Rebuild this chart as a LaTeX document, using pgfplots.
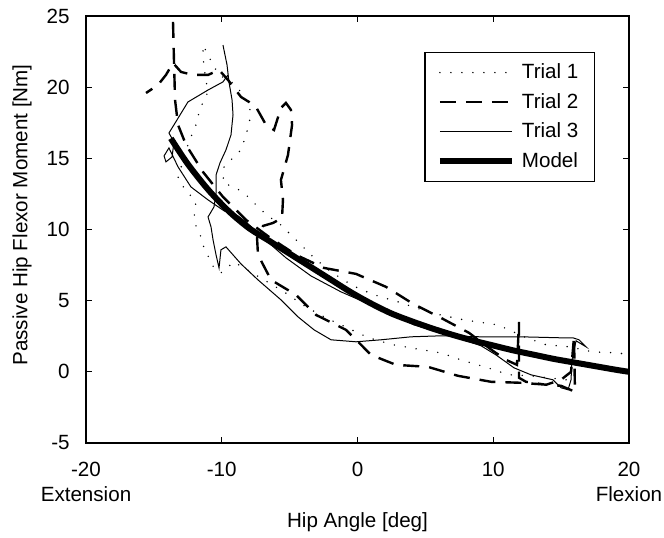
\documentclass[border=0pt]{standalone}
\usepackage{fontspec}
\setmainfont{Liberation Sans}
\usepackage{pgfplots}
\pgfplotsset{compat=1.18}
\begin{document}
\begin{tikzpicture}[font=\fontsize{10.3}{12.5}\selectfont]
\begin{axis}[
  name=ax,
  width=271.5pt, height=213.5pt, scale only axis,
  xmin=-20, xmax=20, ymin=-5, ymax=25,
  xtick={-20,-10,0,10,20},
  xticklabels={{-20\\Extension},{-10},{0},{10},{20\\Flexion}},
  xticklabel style={align=center, inner sep=0pt, yshift=-9.5pt},
  ytick={-5,0,5,10,15,20,25},
  yticklabels={{-5},{0},{5},{10},{15},{20},{25}},
  yticklabel style={inner sep=0pt, xshift=-8pt},
  xlabel={Hip Angle [deg]},
  ylabel={Passive Hip Flexor Moment [Nm]},
  xlabel style={at={(axis description cs:0.5,-0.185)}, anchor=center, inner sep=0pt},
  ylabel style={at={(axis description cs:-0.1363,0.534)}, anchor=north, inner sep=0pt},
  axis line style={line width=0.7pt},
  major tick length=3pt,
  tick style={black, line width=0.6pt},
  legend cell align=left,
  legend style={at={(axis description cs:0.9374,0.9157)}, anchor=north east,
    draw=black, line width=0.6pt, inner xsep=6pt, inner ysep=3.5pt, row sep=1.8pt,
    /tikz/every odd column/.append style={column sep=1.5pt}},
  legend image code/.code={\draw[#1] (0pt,0pt) -- (36pt,0pt);},
]
% Trial 1 (dotted)
\addplot[black, line width=0.8pt, line cap=round, dash pattern=on 0pt off 5.5pt] coordinates {
(15.36,-0.56) (12.78,-0.28) (11.16,-0.21) (9.61,0.28) (7.62,0.84) (6.15,1.33) (4.31,1.62)
(2.62,1.90) (0.85,2.39) (0.04,2.74) (-2.32,3.79) (-3.79,4.56) (-5.41,5.62) (-6.89,6.46)
(-9.10,7.72) (-10.06,6.95) (-10.57,7.30) (-10.94,8.01) (-11.31,8.71) (-11.53,9.48)
(-11.90,10.25) (-12.04,11.17) (-11.90,11.94) (-12.78,12.92) (-13.22,13.62) (-12.63,15.59)
(-12.27,16.50) (-11.90,17.35) (-11.68,18.19) (-11.38,18.96) (-11.01,19.66) (-11.23,20.86)
(-11.38,22.12) (-11.38,22.96) (-10.64,21.56) (-10.20,20.86) (-9.17,20.29) (-8.58,19.66)
(-7.99,18.75) (-7.85,18.05) (-8.21,16.64) (-8.58,15.59) (-9.17,15.03) (-9.83,14.40)
(-9.91,13.27) (-9.10,12.99) (-8.36,12.57) (-7.70,11.94) (-7.11,11.38) (-6.37,10.81)
(-5.64,10.32) (-5.05,9.76) (-4.38,9.13) (-3.79,8.57) (-3.20,8.01) (-1.95,7.02)
(-0.33,6.04) (1.22,5.41) (2.98,4.92) (5.41,4.14) (7.85,3.65) (10.35,3.30) (12.27,2.46)
(13.89,1.90) (15.58,1.76) (17.35,1.40) (19.19,1.33) (20.0,1.19)
};
\addlegendentry{Trial 1}
% Trial 2 (dashed)
\addplot[black, line width=1.2pt, dash pattern=on 8pt off 5pt] coordinates {
(-13.59,24.58) (-13.52,21.91) (-13.44,19.10) (-13.22,17.35) (-12.63,15.94) (-11.38,14.04)
(-9.91,12.29) (-8.21,10.67) (-6.52,9.48) (-4.53,8.22) (-2.47,7.30) (-0.11,6.88) (2.10,5.97)
(4.09,4.78) (6.15,3.79) (8.21,2.74) (9.98,1.47) (10.94,0.84) (11.75,0.49) (11.90,3.51)
(11.90,-0.42) (12.41,-0.70) (13.89,-0.91) (14.99,-0.56) (15.73,0.0) (15.95,2.46)
(16.02,-1.40) (14.99,-0.98) (12.04,-0.77) (9.83,-0.70) (7.40,-0.28) (5.19,0.35) (2.84,0.49)
(0.99,1.19) (0.26,1.90) (-0.85,2.95) (-3.06,4.00) (-4.53,5.41) (-4.90,5.62) (-6.37,6.46)
(-7.33,8.22) (-7.40,9.41) (-6.96,10.25) (-6.22,10.46) (-5.56,10.81) (-5.49,12.08)
(-5.64,13.48) (-5.12,15.24) (-4.82,17.35) (-4.90,18.40) (-5.27,18.89) (-5.64,18.54)
(-6.15,16.99) (-6.74,17.35) (-7.48,18.61) (-7.99,18.96) (-8.58,19.31) (-9.54,20.51)
(-10.20,21.21) (-11.01,20.86) (-12.12,20.86) (-13.00,21.07) (-13.59,21.70) (-14.11,20.86)
(-14.70,20.15) (-15.58,19.59)
};
\addlegendentry{Trial 2}
% Trial 3 (thin solid)
\addplot[black, line width=0.5pt] coordinates {
(-9.91,22.96) (-9.61,21.56) (-9.47,20.37) (-9.24,19.10) (-9.17,18.05) (-9.32,16.64)
(-9.69,15.59) (-10.13,14.68) (-10.42,13.83) (-10.42,12.57) (-10.57,11.59) (-11.01,10.88)
(-10.79,10.18) (-10.64,9.27) (-10.42,8.22) (-10.20,7.30) (-10.06,8.57) (-9.69,8.78)
(-8.58,7.58) (-7.33,6.46) (-5.64,5.06) (-4.38,3.86) (-3.20,2.95) (-1.95,2.25) (-0.11,2.11)
(1.73,2.25) (3.94,2.46) (6.15,2.53) (9.10,2.46) (12.04,2.46) (14.99,2.39) (15.87,2.39)
(16.32,2.25) (16.83,1.76) (16.10,2.18) (15.80,0.84) (15.73,-0.56) (15.51,-1.26)
(14.99,-1.12) (14.40,-0.56) (12.78,-0.21) (11.53,0.28) (10.20,1.19) (9.10,1.83)
(7.62,2.32) (5.78,2.88) (4.16,3.30) (2.47,4.07) (0.63,4.85) (-1.22,5.62) (-3.43,6.74)
(-5.27,8.01) (-6.96,9.41) (-8.21,10.53) (-8.80,10.95) (-9.83,11.31) (-11.01,12.08)
(-12.27,12.99) (-13.22,14.40) (-13.89,15.73) (-14.25,15.17) (-14.11,14.75) (-13.66,15.10)
(-13.52,16.15) (-13.89,16.78) (-13.52,17.35) (-12.49,18.96) (-11.01,19.80) (-9.91,20.37)
(-9.54,20.86)
};
\addlegendentry{Trial 3}
% Model (thick)
\addplot[black, line width=3pt, smooth] coordinates {
(-13.75,16.4) (-12.5,14.6) (-11,12.8) (-9.5,11.3) (-8,10.1) (-6.5,9.2) (-5,8.3)
(-3.5,7.4) (-2,6.5) (-0.5,5.6) (1,4.8) (2.5,4.1) (4,3.55) (5.5,3.05) (7,2.6)
(8.5,2.2) (10,1.85) (11.5,1.5) (13,1.2) (14.5,0.9) (16,0.65) (17.5,0.4) (19,0.15) (20,0)
};
\addlegendentry{Model}
\end{axis}
\pgfresetboundingbox
\path ([xshift=-43pt,yshift=-47.5pt]ax.south west) rectangle ([xshift=17.5pt,yshift=8pt]ax.north east);
\end{tikzpicture}
\end{document}
